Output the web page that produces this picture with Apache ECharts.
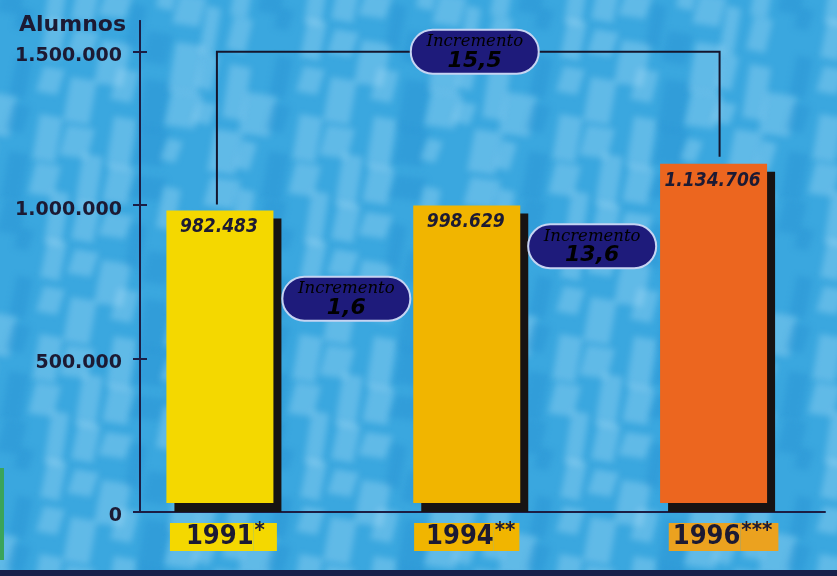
<!DOCTYPE html>
<html><head><meta charset="utf-8">
<script src="https://cdn.jsdelivr.net/npm/echarts@6/dist/echarts.min.js"></script>
<style>html,body{margin:0;padding:0;background:#3ba7df}#c{width:837px;height:576px;}</style>
</head><body><div id="c"></div>
<script>
// ---- data ----
const years = ['1991', '1994', '1996'];
const yearMarks = ['*', '**', '***'];
const students = [982483, 998629, 1134706];
const increments = ['1,6', '13,6', '15,5'];
const yTicks = [0, 500000, 1000000, 1500000];

// ---- styles ----
const barColors = ['#f4d800', '#f1b500', '#ec661f'];
const labelColors = ['#f4d800', '#f1b500', '#eba21f'];
const labelPad = [[16, 12], [12, 4], [4, 6]];
const labelShift = [7, 0, 20];
const ink = '#1c1a33';
const axisInk = '#1b1d44';

function fmt(v) { return String(v).replace(/\B(?=(\d{3})+(?!\d))/g, '.'); }

// decorative background texture (deterministic)
function makePattern() {
  const W = 260, H = 220;
  const c = document.createElement('canvas'); c.width = W; c.height = H;
  const g = c.getContext('2d');
  g.fillStyle = '#3aa7df'; g.fillRect(0, 0, W, H);
  g.filter = 'blur(3px)';
  for (let i = 0; i < 40; i++) {
    const x = (i * 97 + 13) % W, y = (i * 61 + 7) % H;
    const w = 14 + (i * 7) % 18, h = 24 + (i * 11) % 34;
    const light = i % 4 !== 0;
    g.fillStyle = light ? 'rgba(175,225,250,0.33)' : 'rgba(30,135,205,0.30)';
    for (let ox = -W; ox <= W; ox += W) for (let oy = -H; oy <= H; oy += H) {
      g.beginPath();
      g.moveTo(x + ox + 8, y + oy);
      g.lineTo(x + ox + w + 8, y + oy + 4);
      g.lineTo(x + ox + w, y + oy + h);
      g.lineTo(x + ox, y + oy + h - 4);
      g.closePath(); g.fill();
    }
  }
  return c;
}

const chart = echarts.init(document.getElementById('c'), null, { renderer: 'canvas' });

const rich = {};
years.forEach((y, i) => {
  rich['g' + i] = { width: labelShift[i], height: 28 };
  rich['n' + i] = { backgroundColor: labelColors[i], height: 28, lineHeight: 28, padding: [0, 0, 0, labelPad[i][0]],
    fontSize: 27, fontWeight: 'bold', fontFamily: 'DejaVu Sans Condensed', color: ink };
  rich['s' + i] = { backgroundColor: labelColors[i], height: 16, lineHeight: 16, padding: [0, labelPad[i][1], 12, 1],
    fontSize: 22, fontWeight: 'bold', fontFamily: 'DejaVu Sans Condensed', color: ink, verticalAlign: 'top' };
});

const pillPlaces = [
  { a: 0, b: 1, level: 695000, dx: 3 },
  { a: 1, b: 2, level: 866000, dx: 2 },
  { a: 0, b: 2, level: 1500000, dx: 8 }
];

const tickFont = { fontSize: 19, fontWeight: 'bold', fontFamily: 'DejaVu Sans', color: ink };

const option = {
  backgroundColor: { image: makePattern(), repeat: 'repeat' },
  animation: false,
  grid: [
    { left: 140, right: 12, top: 21, bottom: 64 },
    { left: 96.5, width: 750, top: 21, bottom: 64 }
  ],
  xAxis: [
    { gridIndex: 0, type: 'value', min: 0, max: 1, axisLine: { show: true, lineStyle: { color: axisInk, width: 2 } },
      axisTick: { show: false }, axisLabel: { show: false }, splitLine: { show: false } },
    { gridIndex: 1, type: 'category', data: years, axisLine: { show: false }, axisTick: { show: false },
      axisLabel: { margin: 11, formatter: (v, idx) => '{g' + idx + '|}{n' + idx + '|' + v + '}{s' + idx + '|' + yearMarks[idx] + '}', rich: rich } }
  ],
  yAxis: [
    { gridIndex: 0, type: 'value', min: 0, max: 1600000, interval: 500000,
      name: '{a|Alumnos}', nameLocation: 'end', nameGap: 0,
      nameTextStyle: { align: 'right', verticalAlign: 'middle',
        rich: { a: { fontSize: 22, fontWeight: 'bold', fontFamily: 'DejaVu Sans', color: ink, lineHeight: 22, padding: [8, 14, 0, 0] } } },
      axisLine: { show: true, lineStyle: { color: axisInk, width: 2 } },
      axisTick: { show: true, length: 7, customValues: yTicks, lineStyle: { color: axisInk, width: 2 } },
      axisLabel: { customValues: yTicks, formatter: v => '{v|' + fmt(v) + '}', margin: 18,
        rich: { v: Object.assign({ lineHeight: 19, padding: [9, 0, 0, 0] }, tickFont) } },
      splitLine: { show: false } },
    { gridIndex: 0, type: 'value', min: 0, max: 1600000, interval: 500000, position: 'left',
      axisLine: { show: true, lineStyle: { color: axisInk, width: 2 } },
      axisTick: { show: true, inside: true, length: 7, customValues: yTicks, lineStyle: { color: axisInk, width: 2 } },
      axisLabel: { show: false }, splitLine: { show: false } },
    { gridIndex: 1, type: 'value', min: 0, max: 1600000, show: false, splitLine: { show: false } }
  ],
  series: [
    {
      type: 'custom', xAxisIndex: 1, yAxisIndex: 2,
      data: students.map((v, i) => [i, v]),
      renderItem: function (params, api) {
        const i = api.value(0), v = api.value(1);
        const top = api.coord([i, v]);
        const base = api.coord([i, 0]);
        const w = 107, x0 = top[0] - w / 2;
        return { type: 'group', children: [
          { type: 'rect', shape: { x: x0 + 8, y: top[1] + 8, width: w, height: base[1] - top[1] - 8 }, style: { fill: '#171313' } },
          { type: 'rect', shape: { x: x0, y: top[1], width: w, height: base[1] - 9 - top[1] }, style: { fill: barColors[i] } },
          { type: 'text', x: top[0] - 1, y: top[1] + 17, style: { text: fmt(v), fill: ink, fontSize: 19, fontWeight: 'bold', fontStyle: 'italic',
            fontFamily: 'DejaVu Sans Condensed', align: 'center', verticalAlign: 'middle' } }
        ] };
      }
    },
    {
      type: 'custom', xAxisIndex: 1, yAxisIndex: 2,
      data: [[0, 0]],
      renderItem: function (params, api) {
        const p0 = api.coord([0, students[0]]), p2 = api.coord([2, students[2]]);
        const yTop = api.coord([0, 1500000])[1];
        return { type: 'polyline', shape: { points: [[p0[0] - 3, p0[1] - 6], [p0[0] - 3, yTop], [p2[0] + 6, yTop], [p2[0] + 6, p2[1] - 7]] },
          style: { stroke: '#14162e', lineWidth: 2, fill: null } };
      }
    },
    {
      type: 'custom', xAxisIndex: 1, yAxisIndex: 2,
      data: increments.map((t, k) => [k, pillPlaces[k].level]),
      renderItem: function (params, api) {
        const k = params.dataIndex, pl = pillPlaces[k];
        const pa = api.coord([pl.a, pl.level]), pb = api.coord([pl.b, pl.level]);
        const cx = (pa[0] + pb[0]) / 2 + pl.dx, cy = pa[1];
        const w = 128, h = 44;
        return { type: 'group', children: [
          { type: 'rect', shape: { x: cx - w / 2, y: cy - h / 2, width: w, height: h, r: h / 2 },
            style: { fill: '#1e1b7b', stroke: '#c6d4f2', lineWidth: 2 } },
          { type: 'text', x: cx, y: cy + 1, style: {
            text: '{a|Incremento}\n{b|' + increments[k] + '}', align: 'center', verticalAlign: 'middle',
            rich: {
              a: { fontSize: 16.5, fontStyle: 'italic', fontFamily: 'DejaVu Serif', color: '#f4ecff', lineHeight: 17 },
              b: { fontSize: 22, fontStyle: 'italic', fontWeight: 'bold', fontFamily: 'DejaVu Sans', color: '#f4ecff', lineHeight: 22 }
            } } }
        ] };
      }
    }
  ],
  graphic: [
    { type: 'rect', left: 0, top: 570, shape: { width: 837, height: 6 }, style: { fill: '#18204a' } },
    { type: 'rect', left: 0, top: 468, shape: { width: 4, height: 92 }, style: { fill: '#3aa45a' } }
  ]
};
chart.setOption(option);
</script>
</body></html>
